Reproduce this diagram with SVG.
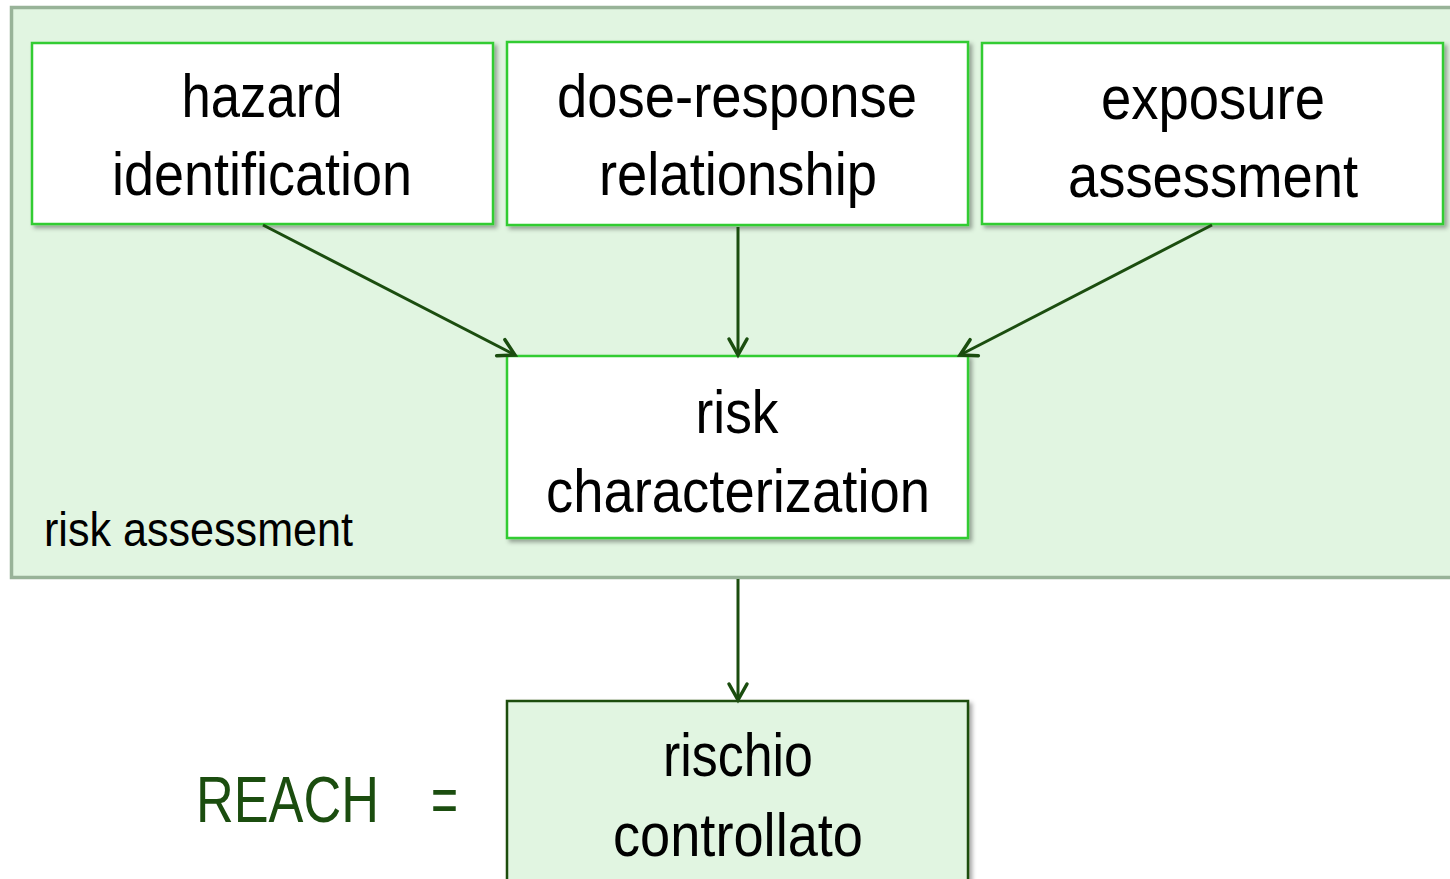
<svg xmlns="http://www.w3.org/2000/svg" width="1450" height="879" viewBox="0 0 1450 879">
<defs>
<filter id="sh" x="-5%" y="-5%" width="115%" height="120%">
<feDropShadow dx="3" dy="3" stdDeviation="2" flood-color="#000" flood-opacity="0.35"/>
</filter>
<marker id="ah" markerUnits="userSpaceOnUse" markerWidth="40" markerHeight="40" refX="0" refY="0" viewBox="-20 -20 40 40" orient="auto">
<path d="M-16,-9 L0,0 L-16,9" fill="none" stroke="#1b4d0f" stroke-width="3.5" stroke-linecap="round" stroke-linejoin="miter"/>
</marker>
<style>
.t{font-family:"Liberation Sans",Arial,sans-serif;font-size:62px;fill:#000;text-anchor:middle}
.box{fill:#fff;stroke:#33cc33;stroke-width:2.5}
.con{stroke:#1b4d0f;stroke-width:3;fill:none;marker-end:url(#ah)}
</style>
</defs>
<rect width="1450" height="879" fill="#fff"/>
<g id="risk-assessment">
<rect x="11.5" y="7.5" width="1445" height="570" fill="#e1f5e1" stroke="#98b398" stroke-width="3.5"/>
<text x="44" y="546" style="font-family:'Liberation Sans',Arial,sans-serif;font-size:48px" textLength="309" lengthAdjust="spacingAndGlyphs">risk assessment</text>
</g>
<g id="hazard">
<rect class="box" x="32" y="43" width="461" height="181" filter="url(#sh)"/>
<text class="t" x="262" y="117" textLength="161" lengthAdjust="spacingAndGlyphs">hazard</text>
<text class="t" x="262" y="195" textLength="300" lengthAdjust="spacingAndGlyphs">identification</text>
</g>
<g id="dose-response">
<rect class="box" x="507" y="42" width="461" height="183" filter="url(#sh)"/>
<text class="t" x="737" y="117" textLength="360" lengthAdjust="spacingAndGlyphs">dose-response</text>
<text class="t" x="738" y="195" textLength="278" lengthAdjust="spacingAndGlyphs">relationship</text>
</g>
<g id="exposure">
<rect class="box" x="982" y="43" width="461" height="181" filter="url(#sh)"/>
<text class="t" x="1213" y="119" textLength="224" lengthAdjust="spacingAndGlyphs">exposure</text>
<text class="t" x="1213" y="197" textLength="290" lengthAdjust="spacingAndGlyphs">assessment</text>
</g>
<g id="risk-characterization">
<rect class="box" x="507" y="356" width="461" height="182" filter="url(#sh)"/>
<text class="t" x="737" y="433" textLength="83" lengthAdjust="spacingAndGlyphs">risk</text>
<text class="t" x="738" y="512" textLength="384" lengthAdjust="spacingAndGlyphs">characterization</text>
</g>
<g id="rischio-controllato">
<rect x="507" y="701" width="461" height="200" fill="#e1f5e1" stroke="#1b4d0f" stroke-width="2.5" filter="url(#sh)"/>
<text class="t" x="738" y="776" textLength="150" lengthAdjust="spacingAndGlyphs">rischio</text>
<text class="t" x="738" y="856" textLength="250" lengthAdjust="spacingAndGlyphs">controllato</text>
</g>
<g id="reach">
<text x="196" y="822" style="font-family:'Liberation Sans',Arial,sans-serif;font-size:64px;fill:#1b4d0f" textLength="183" lengthAdjust="spacingAndGlyphs">REACH</text>
<text x="431" y="822" style="font-family:'Liberation Sans',Arial,sans-serif;font-size:64px;fill:#1b4d0f" textLength="27" lengthAdjust="spacingAndGlyphs">=</text>
</g>
<g id="connectors">
<line class="con" x1="263" y1="225" x2="515" y2="355"/>
<line class="con" x1="738" y1="227" x2="738" y2="355"/>
<line class="con" x1="1212" y1="225" x2="960" y2="355"/>
<line class="con" x1="738" y1="579" x2="738" y2="700"/>
</g>
</svg>
